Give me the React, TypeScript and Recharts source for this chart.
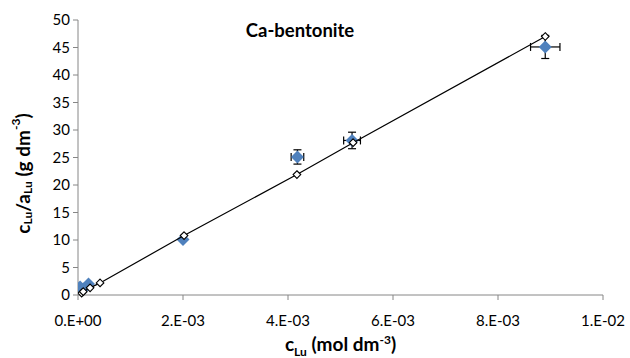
import {
  ComposedChart,
  Scatter,
  XAxis,
  YAxis,
  ErrorBar,
  Label,
} from 'recharts';

// measured c_Lu (mol dm-3), c_Lu/a_Lu (g dm-3) with uncertainties
const measuredX = [0.00004, 0.0001, 0.0002, 0.002, 0.00418, 0.00522, 0.0089];
const measuredY = [1.45, 1.1, 2.0, 10.1, 25.1, 28.1, 45.1];
const measuredErrX = [0, 0, 0, 0, 0.00012, 0.00016, 0.00028];
const measuredErrY = [0, 0, 0, 0, 1.3, 1.5, 2.1];

// model curve
const modelX = [0.00007, 0.0001, 0.00023, 0.00042, 0.00202, 0.00417, 0.00524, 0.0089];
const modelY = [0.35, 0.6, 1.3, 2.2, 10.8, 21.9, 27.7, 47.0];

const xTicks = [0, 0.002, 0.004, 0.006, 0.008, 0.01];
const yTicks = [0, 5, 10, 15, 20, 25, 30, 35, 40, 45, 50];

const measured = measuredX.map((x, i) => ({
  x,
  y: measuredY[i],
  ex: measuredErrX[i],
  ey: measuredErrY[i],
}));
const model = modelX.map((x, i) => ({ x, y: modelY[i] }));

const FONT = 'Lato, "Open Sans", sans-serif';
const AXIS = '#868686';

const fmtSci = (v: number) => {
  if (v === 0) return '0.E+00';
  const e = Math.floor(Math.log10(v) + 1e-9);
  const m = Math.round(v / Math.pow(10, e));
  return `${m}.E${e < 0 ? '-' : '+'}${String(Math.abs(e)).padStart(2, '0')}`;
};

const FilledDiamond = (props: any) => {
  const { cx, cy } = props;
  const r = 6.5;
  return (
    <path
      d={`M${cx},${cy - r}L${cx + r},${cy}L${cx},${cy + r}L${cx - r},${cy}Z`}
      fill="#4F81BD"
    />
  );
};

const OpenDiamond = (props: any) => {
  const { cx, cy } = props;
  const r = 3.8;
  return (
    <path
      d={`M${cx},${cy - r}L${cx + r},${cy}L${cx},${cy + r}L${cx - r},${cy}Z`}
      fill="#fff"
      stroke="#000"
      strokeWidth={1.1}
    />
  );
};

const YLabel = (props: any) => {
  const vb = props.viewBox || {};
  const cx = 22;
  const cy = (vb.y ?? 0) + (vb.height ?? 0) / 2 + 16;
  return (
    <text
      x={cx}
      y={cy}
      transform={`rotate(-90 ${cx} ${cy})`}
      textAnchor="middle"
      dominantBaseline="central"
      fontFamily={FONT}
      fontWeight="bold"
      fontSize={19}
      fill="#000"
    >
      c<tspan fontSize={12} dy={5}>Lu</tspan>
      <tspan dy={-5}>/a</tspan>
      <tspan fontSize={12} dy={5}>Lu</tspan>
      <tspan dy={-5}> (g dm</tspan>
      <tspan fontSize={12} dy={-7}>-3</tspan>
      <tspan dy={7}>)</tspan>
    </text>
  );
};

const XLabel = (props: any) => {
  const vb = props.viewBox || {};
  const cx = (vb.x ?? 0) + (vb.width ?? 0) / 2;
  return (
    <text
      x={cx}
      y={351}
      textAnchor="middle"
      fontFamily={FONT}
      fontWeight="bold"
      fontSize={19}
      fill="#000"
    >
      c<tspan fontSize={12} dy={5}>Lu</tspan>
      <tspan dy={-5}> (mol dm</tspan>
      <tspan fontSize={12} dy={-7}>-3</tspan>
      <tspan dy={7}>)</tspan>
    </text>
  );
};

export default function App() {
  return (
    <div style={{ position: 'absolute', left: 0, top: 0, background: '#fff' }}>
      <ComposedChart
        width={630}
        height={358}
        margin={{ top: 20, right: 27, bottom: 0, left: 0 }}
      >
        <XAxis
          type="number"
          dataKey="x"
          domain={[0, 0.01]}
          ticks={xTicks}
          tickFormatter={fmtSci}
          allowDataOverflow
          height={63}
          stroke={AXIS}
          tick={{ fontSize: 15, fill: '#000', fontFamily: FONT }}
          tickSize={5}
          tickMargin={15}
        >
          <Label content={<XLabel />} />
        </XAxis>
        <YAxis
          type="number"
          dataKey="y"
          domain={[0, 50]}
          ticks={yTicks}
          width={78}
          stroke={AXIS}
          tick={{ fontSize: 15, fill: '#000', fontFamily: FONT }}
          tickSize={5}
          tickMargin={3}
        >
          <Label content={<YLabel />} />
        </YAxis>
        <Scatter
          data={measured}
          shape={<FilledDiamond />}
          isAnimationActive={false}
        >
          <ErrorBar dataKey="ex" direction="x" stroke="#000" width={4} strokeWidth={1.2} />
          <ErrorBar dataKey="ey" direction="y" stroke="#000" width={4} strokeWidth={1.2} />
        </Scatter>
        <Scatter
          data={model}
          line={{ stroke: '#000', strokeWidth: 1.2 }}
          shape={<OpenDiamond />}
          isAnimationActive={false}
        />
        <text
          x={300}
          y={37}
          textAnchor="middle"
          fontFamily={FONT}
          fontWeight="bold"
          fontSize={18.5}
          fill="#000"
        >
          Ca-bentonite
        </text>
      </ComposedChart>
    </div>
  );
}
